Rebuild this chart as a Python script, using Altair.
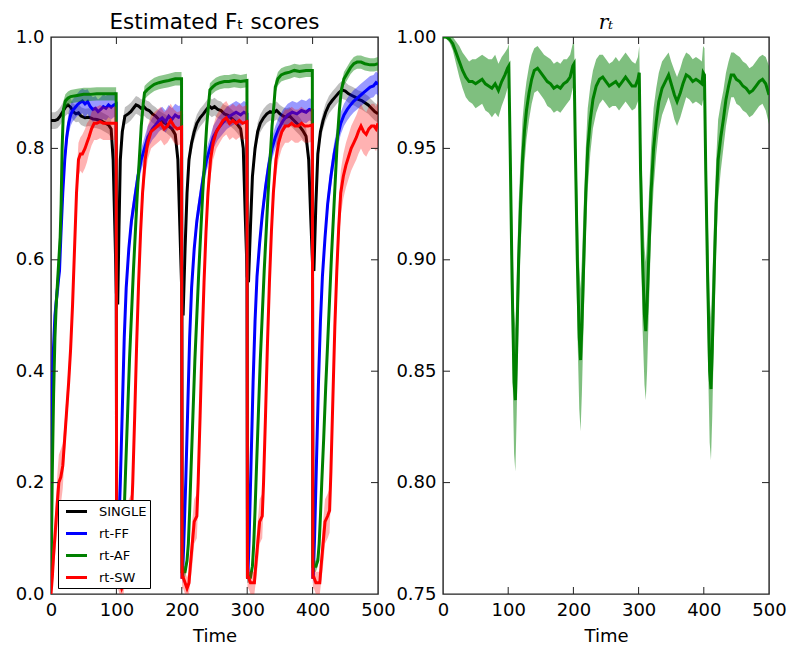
import altair as alt
import pandas as pd

# ---------------- data ----------------
NAMES = ["SINGLE", "rt-FF", "rt-AF", "rt-SW"]
COLORS = ["#000000", "#0000ff", "#008000", "#ff0000"]
BAND_OPACITY = [0.25, 0.4, 0.45, 0.3]
LEFT_TITLE = ["Estimated Fₜ scores"]
RIGHT_TITLE = ["rₜ"]

single_t = [0, 6, 10, 14, 18, 22, 26, 30, 34, 38, 42, 46, 52, 58, 64, 70, 76, 82, 88, 92, 95, 98, 100,
            102, 104, 106, 109, 113, 118, 122, 126, 130, 134, 138, 142, 146, 150, 155, 160, 165, 170, 175, 180, 185, 190, 194, 197, 200,
            202, 205, 208, 211, 215, 219, 223, 228, 233, 238, 242, 246, 250, 255, 260, 265, 270, 275, 280, 285, 290, 294, 297, 300,
            302, 305, 308, 312, 316, 320, 325, 330, 335, 340, 345, 350, 355, 360, 365, 370, 375, 380, 385, 390, 394, 397, 400,
            402, 405, 408, 412, 416, 420, 425, 430, 435, 440, 445, 450, 455, 460, 465, 470, 475, 480, 485, 490, 495, 500]
single_v = [.850, .850, .852, .858, .866, .874, .878, .874, .866, .862, .864, .858, .855, .856, .853, .852, .850, .846, .842, .835, .78, .64, .54,
            .52, .66, .78, .83, .858, .862, .866, .872, .878, .876, .872, .875, .870, .868, .862, .858, .852, .848, .845, .840, .835, .825, .78, .66, .54,
            .50, .62, .72, .78, .81, .83, .845, .855, .862, .870, .876, .872, .875, .870, .868, .862, .860, .855, .850, .843, .835, .80, .68, .57,
            .56, .66, .75, .80, .83, .845, .855, .862, .866, .864, .868, .862, .858, .856, .858, .852, .846, .840, .832, .822, .78, .68, .59,
            .58, .70, .79, .83, .85, .865, .878, .886, .893, .900, .905, .903, .898, .895, .892, .888, .886, .882, .878, .872, .866, .862]
single_s = [.015, .015, .016, .016, .016, .016, .016, .015, .015, .015, .016, .016, .016, .016, .016, .016, .016, .016, .016, .016, .015, .012, .01,
            .01, .012, .014, .015, .016, .016, .016, .016, .016, .016, .016, .016, .016, .016, .016, .016, .016, .016, .016, .016, .016, .016, .015, .012, .01,
            .01, .012, .014, .015, .016, .016, .016, .016, .016, .016, .016, .016, .016, .016, .016, .016, .016, .016, .016, .016, .016, .015, .012, .01,
            .01, .012, .014, .015, .016, .016, .016, .016, .016, .016, .016, .016, .016, .016, .016, .016, .016, .016, .016, .016, .015, .012, .01,
            .01, .012, .014, .016, .016, .016, .016, .016, .016, .016, .016, .016, .016, .016, .016, .016, .016, .016, .016, .016, .016, .016]

ff_t = [0, 1, 3, 6, 10, 13, 15, 18, 21, 24, 27, 30, 33, 36, 40, 44, 48, 52, 56, 60, 64, 68, 72, 76, 80, 84, 88, 92, 96, 99.6,
        100.4, 101, 103, 106, 109, 112, 115, 119, 123, 128, 133, 138, 143, 148, 155, 160, 165, 170, 175, 180, 185, 190, 195, 199.6,
        200.4, 201, 203, 206, 209, 212, 215, 219, 223, 228, 233, 238, 243, 248, 255, 262, 269, 276, 283, 290, 295, 299.6,
        300.4, 301, 303, 306, 309, 312, 315, 319, 323, 328, 333, 338, 343, 348, 355, 362, 369, 376, 383, 390, 395, 399.6,
        400.4, 401, 403, 406, 409, 412, 415, 419, 423, 428, 433, 438, 443, 448, 453, 458, 463, 468, 473, 478, 483, 488, 493, 497, 500]
ff_v = [.18, .30, .42, .50, .55, .58, .64, .72, .78, .82, .845, .86, .868, .872, .878, .882, .885, .880, .884, .875, .870, .872, .866, .870, .875, .872, .878, .874, .878, .880,
        .03, .03, .09, .20, .33, .46, .55, .62, .67, .71, .75, .78, .80, .82, .835, .842, .85, .855, .848, .858, .852, .860, .856, .858,
        .03, .03, .09, .20, .33, .46, .55, .62, .67, .71, .75, .78, .80, .82, .835, .845, .855, .86, .865, .86, .865, .862,
        .03, .03, .10, .24, .38, .49, .57, .63, .68, .73, .77, .80, .82, .835, .85, .86, .865, .862, .868, .865, .87, .868,
        .03, .03, .10, .24, .38, .49, .57, .64, .70, .75, .79, .82, .845, .86, .87, .878, .885, .89, .895, .90, .905, .91, .912, .918, .915]
ff_s = [.03, .03, .03, .03, .03, .03, .025, .02, .02, .02, .02, .02, .02, .02, .02, .022, .022, .025, .022, .022, .022, .022, .022, .022, .022, .022, .022, .022, .022, .022,
        .01, .01, .01, .01, .01, .01, .012, .015, .018, .02, .02, .02, .02, .02, .02, .02, .02, .02, .02, .02, .02, .02, .02, .02,
        .01, .01, .01, .01, .01, .01, .012, .015, .018, .02, .02, .02, .02, .02, .02, .02, .02, .02, .02, .02, .02, .02,
        .01, .01, .01, .01, .01, .01, .012, .015, .018, .02, .02, .02, .02, .02, .02, .02, .02, .02, .02, .02, .02, .02,
        .01, .01, .01, .01, .01, .01, .012, .015, .018, .02, .02, .02, .02, .02, .02, .02, .02, .02, .02, .02, .02, .02, .02, .02, .02]

af_t = [0, 1, 2, 4, 6, 8, 10, 12, 14, 15.5, 17, 19, 22, 26, 30, 40, 50, 60, 70, 80, 90, 99.6,
        100.4, 102, 105, 108, 110, 112, 114, 117, 120, 123, 126, 129, 132, 135, 138, 141, 143, 147, 152, 158, 165, 172, 180, 190, 199.6,
        200.4, 202, 205, 208, 210, 212, 214, 217, 220, 223, 226, 229, 232, 235, 238, 241, 243, 247, 252, 258, 265, 272, 280, 290, 299.6,
        300.4, 302, 305, 308, 310, 312, 314, 317, 320, 323, 326, 329, 332, 335, 338, 341, 343, 347, 352, 358, 365, 372, 380, 390, 399.6,
        400.4, 402, 405, 408, 410, 412, 414, 417, 420, 423, 426, 429, 432, 435, 438, 441, 444, 448, 453, 458, 463, 468, 474, 480, 488, 494, 500]
af_v = [.02, .12, .22, .36, .46, .52, .56, .60, .64, .70, .80, .87, .885, .89, .893, .895, .897, .897, .898, .898, .898, .898,
        .04, .04, .04, .06, .09, .15, .22, .32, .42, .50, .58, .65, .72, .78, .84, .88, .90, .905, .91, .915, .918, .92, .922, .925, .925,
        .04, .04, .04, .06, .09, .15, .22, .32, .42, .50, .58, .65, .72, .78, .84, .88, .905, .91, .915, .918, .92, .92, .922, .92, .922,
        .03, .03, .03, .05, .09, .15, .22, .32, .42, .50, .58, .65, .72, .78, .84, .88, .91, .925, .932, .935, .937, .94, .938, .94, .94,
        .05, .05, .05, .06, .09, .14, .20, .28, .37, .45, .53, .61, .68, .75, .82, .87, .905, .925, .935, .945, .952, .955, .955, .952, .95, .95, .952]
af_s = [.02, .03, .03, .03, .03, .03, .03, .035, .035, .03, .02, .015, .012, .012, .012, .012, .012, .012, .012, .012, .012, .012,
        .01, .01, .01, .01, .01, .01, .01, .01, .01, .01, .01, .01, .01, .01, .012, .012, .012, .012, .012, .012, .012, .012, .012, .012, .012,
        .01, .01, .01, .01, .01, .01, .01, .01, .01, .01, .01, .01, .01, .01, .012, .012, .012, .012, .012, .012, .012, .012, .012, .012, .012,
        .01, .01, .01, .01, .01, .01, .01, .01, .01, .01, .01, .01, .01, .01, .012, .012, .012, .012, .012, .012, .012, .012, .012, .012, .012,
        .01, .01, .01, .01, .01, .01, .01, .01, .01, .01, .01, .01, .01, .01, .012, .012, .012, .012, .012, .012, .012, .012, .012, .012, .012, .012, .012]

sw_t = [0, 2, 4, 7, 10, 12, 15, 18, 21, 24, 27, 30, 33, 36, 39, 42, 45, 48, 52, 55, 58, 62, 66, 70, 75, 80, 85, 90, 95, 99.6,
        100.4, 102, 105, 108, 111, 113, 116, 119, 123, 125, 128, 131, 134, 137, 140, 144, 148, 153, 158, 163, 168, 173, 178, 183, 188, 193, 199.6,
        200.4, 202, 205, 208, 211, 213, 216, 219, 223, 225, 228, 231, 234, 237, 240, 244, 248, 253, 258, 263, 268, 273, 278, 283, 288, 293, 299.6,
        300.4, 302, 305, 308, 311, 313, 316, 319, 323, 325, 328, 331, 334, 337, 340, 344, 348, 353, 358, 363, 368, 373, 378, 383, 388, 393, 399.6,
        400.4, 402, 405, 408, 411, 413, 416, 419, 423, 426, 428, 431, 434, 437, 440, 443, 447, 451, 455, 459, 463, 467, 470, 474, 478, 482, 486, 490, 494, 497, 500]
sw_v = [.0, .03, .07, .12, .17, .20, .21, .23, .28, .33, .38, .44, .52, .62, .72, .78, .79, .79, .80, .81, .82, .835, .845, .845, .848, .845, .845, .845, .845, .845,
        .03, .03, .02, .01, .02, .05, .09, .13, .14, .20, .32, .45, .56, .65, .72, .78, .81, .83, .835, .84, .845, .835, .84, .85, .84, .835, .838,
        .03, .03, .02, .01, .02, .05, .09, .13, .14, .20, .32, .45, .56, .65, .72, .78, .81, .83, .84, .85, .855, .845, .85, .845, .85, .845, .848,
        .03, .03, .02, .02, .02, .05, .09, .13, .14, .20, .32, .45, .56, .65, .72, .78, .81, .83, .84, .84, .845, .84, .84, .845, .84, .84, .842,
        .03, .03, .02, .02, .02, .05, .09, .13, .14, .15, .22, .35, .48, .58, .66, .72, .75, .77, .785, .80, .81, .82, .83, .84, .83, .825, .835, .84, .84, .835, .845]
sw_s = [.01, .02, .03, .04, .05, .05, .05, .04, .03, .03, .03, .03, .03, .03, .03, .03, .03, .035, .035, .035, .03, .03, .03, .03, .03, .03, .03, .03, .03, .03,
        .02, .02, .02, .02, .02, .03, .04, .04, .04, .04, .03, .03, .03, .03, .03, .03, .03, .03, .03, .03, .03, .03, .03, .03, .03, .03, .03,
        .02, .02, .02, .02, .02, .03, .04, .04, .04, .04, .03, .03, .03, .03, .03, .03, .03, .03, .03, .03, .03, .03, .03, .03, .03, .03, .03,
        .02, .02, .02, .02, .02, .03, .04, .04, .04, .04, .03, .03, .03, .03, .03, .03, .03, .03, .03, .03, .03, .03, .03, .03, .03, .03, .03,
        .02, .02, .02, .02, .02, .03, .04, .04, .04, .04, .04, .04, .04, .04, .04, .04, .04, .04, .04, .04, .04, .04, .04, .04, .04, .04, .04, .04, .04, .04, .04]

rt_t = [0, 5, 10, 15, 20, 25, 30, 35, 40, 45, 50, 55, 60, 65, 70, 75, 80, 85, 90, 95, 99, 101,
        103, 106, 109, 111, 113, 116, 119, 122, 125, 128, 132, 136, 140, 145, 150, 155, 160, 165, 170, 175, 180, 185, 190, 195, 199, 201,
        203, 206, 209, 211, 213, 216, 219, 222, 226, 230, 235, 240, 245, 250, 255, 260, 265, 270, 275, 280, 285, 290, 295, 299, 301,
        303, 306, 309, 311, 313, 316, 319, 323, 327, 331, 336, 341, 346, 350, 355, 359, 364, 368, 373, 378, 383, 388, 393, 397, 399, 401,
        403, 406, 409, 411, 413, 416, 419, 422, 426, 430, 434, 438, 442, 446, 450, 455, 460, 465, 470, 475, 480, 485, 490, 495, 500]
rt_v = [1.0, 1.0, .999, .997, .993, .989, .985, .982, .980, .980, .979, .980, .981, .979, .978, .977, .979, .976, .980, .983, .986, .987,
        .95, .89, .845, .837, .86, .90, .925, .945, .958, .967, .975, .981, .985, .986, .984, .982, .980, .979, .977, .978, .977, .979, .980, .982, .987, .988,
        .95, .90, .865, .855, .87, .90, .93, .95, .963, .972, .978, .981, .982, .980, .978, .979, .980, .978, .980, .982, .980, .978, .978, .981, .984,
        .94, .90, .875, .868, .88, .905, .93, .95, .962, .971, .977, .980, .983, .979, .974, .971, .975, .979, .983, .982, .980, .981, .980, .979, .984, .983,
        .94, .89, .85, .842, .86, .895, .925, .945, .955, .963, .972, .978, .983, .983, .981, .980, .978, .977, .975, .976, .978, .980, .981, .979, .974]
rt_s = [.0005, .0008, .0015, .003, .005, .007, .008, .009, .009, .010, .011, .011, .011, .012, .012, .013, .013, .012, .011, .010, .009, .010,
        .02, .03, .032, .032, .03, .025, .02, .018, .015, .013, .012, .011, .010, .010, .010, .010, .011, .011, .011, .011, .011, .011, .010, .010, .010, .010,
        .02, .03, .032, .032, .03, .025, .02, .018, .015, .013, .012, .011, .010, .010, .010, .010, .011, .011, .011, .011, .011, .011, .010, .010, .012,
        .02, .03, .031, .031, .03, .025, .02, .018, .015, .013, .012, .011, .010, .010, .011, .011, .011, .011, .010, .010, .010, .010, .010, .010, .012, .012,
        .02, .03, .032, .032, .03, .025, .02, .018, .015, .013, .012, .011, .010, .010, .011, .011, .011, .011, .011, .011, .011, .011, .011, .012, .013]

X_TICKS = [0, 100, 200, 300, 400, 500]
X_INNER = [100, 200, 300, 400]
YL_TICKS = [0.0, 0.2, 0.4, 0.6, 0.8, 1.0]
YL_INNER = [0.2, 0.4, 0.6, 0.8]
YR_TICKS = [0.75, 0.80, 0.85, 0.90, 0.95, 1.00]
YR_INNER = [0.80, 0.85, 0.90, 0.95]

# ---------------- build tables ----------------
def frame(name, t, v, s):
    return pd.DataFrame({"series": name, "t": t, "v": v,
                         "lo": [a - b for a, b in zip(v, s)],
                         "hi": [a + b for a, b in zip(v, s)]})

left_df = pd.concat([frame("SINGLE", single_t, single_v, single_s),
                     frame("rt-FF", ff_t, ff_v, ff_s),
                     frame("rt-AF", af_t, af_v, af_s),
                     frame("rt-SW", sw_t, sw_v, sw_s)], ignore_index=True)
right_df = frame("r", rt_t, rt_v, rt_s)

W, WR, H = 327, 326, 557
TICK = 7
FONT = "DejaVu Sans"

xscale = alt.Scale(domain=[0, 500], nice=False, zero=False)
xaxis = alt.Axis(values=X_TICKS, format="d", title="Time", labelFlush=False)
yl_scale = alt.Scale(domain=[0, 1], nice=False, zero=False)
yl_axis = alt.Axis(values=YL_TICKS, format=".1f", title=None, minExtent=37, maxExtent=37)
yr_scale = alt.Scale(domain=[0.75, 1.0], nice=False, zero=False)
yr_axis = alt.Axis(values=YR_TICKS, format=".2f", title=None, minExtent=47, maxExtent=47)

X = alt.X("t:Q", scale=xscale, axis=xaxis)


def inner_ticks(yscale, yaxis, yvals, width):
    xt = pd.DataFrame({"t": X_INNER})
    yt = pd.DataFrame({"v": yvals})
    Y = alt.Y("v:Q", scale=yscale, axis=yaxis)
    rule = dict(color="#222222", strokeWidth=1)
    return [
        alt.Chart(xt).mark_rule(**rule).encode(x=X, y=alt.value(H), y2=alt.value(H - TICK)),
        alt.Chart(xt).mark_rule(**rule).encode(x=X, y=alt.value(0), y2=alt.value(TICK)),
        alt.Chart(yt).mark_rule(**rule).encode(y=Y, x=alt.value(0), x2=alt.value(TICK)),
        alt.Chart(yt).mark_rule(**rule).encode(y=Y, x=alt.value(width), x2=alt.value(width - TICK)),
    ]


def title_mark(text, width, **style):
    return alt.Chart(pd.DataFrame({"label": text})).mark_text(
        baseline="alphabetic", align="center", color="black", **style).encode(
        x=alt.value(width / 2), y=alt.value(-8), text="label:N")


legend = alt.Legend(title=None, orient="none", legendX=7, legendY=463,
                    fillColor="white", strokeColor="black", padding=3,
                    symbolType="M-1.5,0L1.5,0", symbolSize=196, symbolStrokeWidth=3,
                    symbolOffset=7, labelOffset=14, rowPadding=6,
                    labelFont=FONT, labelFontSize=13, labelColor="black")

left_layers = []
for name, col, op in zip(NAMES, COLORS, BAND_OPACITY):
    base = alt.Chart(left_df).transform_filter(alt.datum.series == name)
    left_layers.append(base.mark_area(color=col, opacity=op, clip=True).encode(
        x=X, y=alt.Y("lo:Q", scale=yl_scale, axis=yl_axis), y2="hi:Q"))
    left_layers.append(base.mark_line(strokeWidth=3, clip=True).encode(
        x=X, y=alt.Y("v:Q", scale=yl_scale, axis=yl_axis),
        color=alt.Color("series:N", scale=alt.Scale(domain=NAMES, range=COLORS), legend=legend)))
left_layers += inner_ticks(yl_scale, yl_axis, YL_INNER, W)
left_layers.append(title_mark(LEFT_TITLE, W, font=FONT, fontSize=21.5))

left = alt.layer(*left_layers).properties(width=W, height=H)

right_base = alt.Chart(right_df)
right_layers = [
    right_base.mark_area(color="#008000", opacity=0.5, clip=True).encode(
        x=X, y=alt.Y("lo:Q", scale=yr_scale, axis=yr_axis), y2="hi:Q"),
    right_base.mark_line(color="#008000", strokeWidth=3, clip=True).encode(
        x=X, y=alt.Y("v:Q", scale=yr_scale, axis=yr_axis)),
] + inner_ticks(yr_scale, yr_axis, YR_INNER, WR)
right_layers.append(title_mark(RIGHT_TITLE, WR, font="DejaVu Serif", fontStyle="italic", fontSize=20))

right = alt.layer(*right_layers).properties(width=WR, height=H)

chart = alt.hconcat(left, right, spacing=65, bounds="flush").configure(
    padding={"left": 5, "top": 3, "right": 5, "bottom": 5}
).configure_view(stroke="#222222", strokeWidth=1.4).configure_axis(
    domain=False, ticks=False, grid=False, labelFont=FONT, labelFontSize=18,
    labelColor="black", labelPadding=7, titleFont=FONT, titleFontSize=18,
    titleFontWeight="normal", titleColor="black", titlePadding=8)

chart.save("out.html", embed_options={"renderer": "svg", "actions": False})
